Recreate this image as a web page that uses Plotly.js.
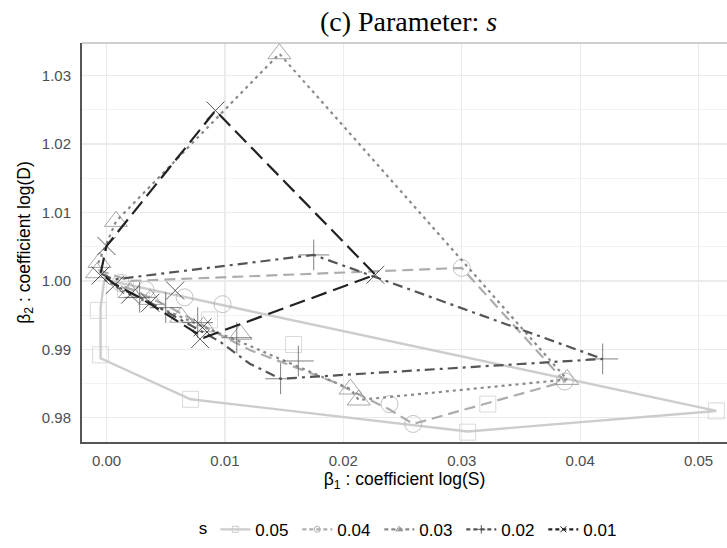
<!DOCTYPE html>
<html>
<head>
<meta charset="utf-8">
<script src="https://cdn.plot.ly/plotly-3.0.1.min.js"></script>
<style>
  html, body { margin: 0; padding: 0; background: #ffffff; }
  #chart { width: 727px; height: 548px; }
</style>
</head>
<body>
<div id="chart"></div>
<script>
// Levels of the parameter s, shown left to right in the legend
const sLevels = ['0.05', '0.04', '0.03', '0.02', '0.01'];

// s = 0.05 : path of (beta1, beta2) estimates and its point markers
const path05x = [-0.0002, -0.0005, -0.0005, 0.0071, 0.0305, 0.0515, 0.0121, 0.0003];
const path05y = [1.0000, 0.9961, 0.9887, 0.9827, 0.9780, 0.9810, 0.9956, 1.0000];
const pts05x = [-0.0007, -0.0005, 0.0071, 0.0305, 0.0515, 0.0158, 0.0322, 0.0016, 0.0043, 0.0087];
const pts05y = [0.9957, 0.9892, 0.9827, 0.9779, 0.9810, 0.9907, 0.9820, 0.9987, 0.9972, 0.9943];

// s = 0.04
const path04x = [-0.0007, 0.0020, 0.0300, 0.0387, 0.0259, 0.0239, 0.0191, 0.0121, 0.0092, 0.0054, 0.0024, 0.0003];
const path04y = [1.0016, 1.0000, 1.0019, 0.9853, 0.9791, 0.9812, 0.9853, 0.9899, 0.9925, 0.9961, 0.9986, 0.9998];
const pts04x = [0.0300, 0.0387, 0.0259, 0.0239, 0.0098, 0.0033, 0.0066, 0.0012];
const pts04y = [1.0019, 0.9853, 0.9791, 0.9820, 0.9966, 0.9987, 0.9976, 0.9997];

// s = 0.03
const path03x = [-0.0007, 0.0008, 0.0146, 0.0389, 0.0213, 0.0206, 0.0113, 0.0079, 0.0045, 0.0016, -0.0005];
const path03y = [1.0026, 1.0087, 1.0332, 0.9856, 0.9826, 0.9842, 0.9911, 0.9935, 0.9961, 0.9983, 1.0005];
const pts03x = [0.0146, 0.0008, -0.0006, -0.0008, 0.0389, 0.0213, 0.0206, 0.0063, 0.0082, 0.0113, 0.0020, 0.0037];
const pts03y = [1.0332, 1.0087, 1.0027, 1.0012, 0.9856, 0.9826, 0.9842, 0.9947, 0.9933, 0.9922, 0.9983, 0.9973];

// s = 0.02
const path02x = [-0.0004, 0.0006, 0.0175, 0.0419, 0.0147, 0.0121, 0.0096, 0.0062, 0.0033, 0.0007];
const path02y = [1.0010, 1.0002, 1.0038, 0.9886, 0.9857, 0.9879, 0.9911, 0.9944, 0.9972, 0.9993];
const pts02x = [0.0175, 0.0419, 0.0162, 0.0147, 0.0110, 0.0028, 0.0050, 0.0077];
const pts02y = [1.0038, 0.9886, 0.9883, 0.9857, 0.9917, 0.9976, 0.9961, 0.9939];

// s = 0.01
const path01x = [-0.0005, 0.0000, 0.0092, 0.0227, 0.0082, 0.0054, 0.0028, 0.0007, -0.0005];
const path01y = [1.0011, 1.0051, 1.0249, 1.0009, 0.9917, 0.9947, 0.9976, 0.9995, 1.0011];
const pts01x = [0.0000, 0.0092, 0.0227, 0.0081, 0.0079, 0.0058, -0.0005, 0.0007, 0.0020, 0.0037];
const pts01y = [1.0051, 1.0249, 1.0009, 0.9932, 0.9915, 0.9986, 1.0008, 0.9994, 0.9980, 0.9968];

// Axis tick values and labels
const xTicks = [0.00, 0.01, 0.02, 0.03, 0.04, 0.05];
const xTickText = ['0.00', '0.01', '0.02', '0.03', '0.04', '0.05'];
const yTicks = [0.98, 0.99, 1.00, 1.01, 1.02, 1.03];
const yTickText = ['0.98', '0.99', '1.00', '1.01', '1.02', '1.03'];

// Per-level styling
const styles = {
  '0.05': { color: '#CCCCCC', dash: 'solid', width: 2.4, symbol: 'square-open', size: 16 },
  '0.04': { color: '#ADADAD', dash: '11px,6px', width: 2.2, symbol: 'circle-open', size: 17 },
  '0.03': { color: '#8A8A8A', dash: '3px,4px', width: 2.2, symbol: 'triangle-up-open', size: 20 },
  '0.02': { color: '#555555', dash: '10px,5px,3px,5px', width: 2.2, symbol: 'cross-thin-open', size: 22 },
  '0.01': { color: '#222222', dash: '16px,7px', width: 2.2, symbol: 'x-thin-open', size: 18 }
};

const series = {
  '0.05': { px: path05x, py: path05y, mx: pts05x, my: pts05y },
  '0.04': { px: path04x, py: path04y, mx: pts04x, my: pts04y },
  '0.03': { px: path03x, py: path03y, mx: pts03x, my: pts03y },
  '0.02': { px: path02x, py: path02y, mx: pts02x, my: pts02y },
  '0.01': { px: path01x, py: path01y, mx: pts01x, my: pts01y }
};

const traces = [];
sLevels.forEach(function (lev) {
  const st = styles[lev];
  const d = series[lev];
  traces.push({
    type: 'scatter', mode: 'lines', x: d.px, y: d.py,
    line: { color: st.color, dash: st.dash, width: st.width },
    legendgroup: lev, showlegend: false, hoverinfo: 'skip'
  });
  traces.push({
    type: 'scatter', mode: 'markers', x: d.mx, y: d.my,
    marker: { symbol: st.symbol, size: st.size, color: st.color, opacity: 0.75,
              line: { color: st.color, width: 1 } },
    legendgroup: lev, showlegend: false, hoverinfo: 'skip'
  });
  // legend entry: line key with a small point
  traces.push({
    type: 'scatter', mode: 'lines+markers', x: [null], y: [null], name: lev,
    line: { color: st.color, dash: st.dash === 'solid' ? 'solid' : '4px,3px', width: 2.4 },
    marker: { symbol: st.symbol, size: 6, color: st.color, line: { color: st.color, width: 1 } },
    legendgroup: lev, showlegend: true
  });
});

const tickFont = { family: 'Liberation Sans, Arial, sans-serif', size: 15, color: '#4D4D4D' };
const titleFont = { family: 'Liberation Sans, Arial, sans-serif', size: 17.5, color: '#000000' };

const layout = {
  width: 727, height: 548,
  paper_bgcolor: '#ffffff', plot_bgcolor: '#ffffff',
  margin: { l: 82, r: 0, t: 43, b: 101 },
  title: {
    text: '(c) Parameter: <i>s</i>',
    font: { family: 'Liberation Serif, DejaVu Serif, serif', size: 28, color: '#000000' },
    x: 0.562, xanchor: 'center', y: 0.962, yanchor: 'middle', xref: 'container', yref: 'container'
  },
  xaxis: {
    range: [-0.00207, 0.0524],
    tickvals: xTicks, ticktext: xTickText, tickfont: tickFont,
    showgrid: true, gridcolor: '#EBEBEB', gridwidth: 1.2,
    zeroline: false, showline: true, linecolor: '#555555', linewidth: 2,
    ticks: '', ticklabelstandoff: 4,
    title: { text: 'β<sub>1</sub> : coefficient log(S)', font: titleFont, standoff: 5 }
  },
  yaxis: {
    range: [0.97646, 1.03477],
    tickvals: yTicks, ticktext: yTickText, tickfont: tickFont,
    showgrid: true, gridcolor: '#EBEBEB', gridwidth: 1.2,
    minor: { tickvals: [0.985, 0.995, 1.005, 1.015, 1.025], showgrid: true, gridcolor: '#F3F3F3', gridwidth: 1, ticks: '' },
    zeroline: false, showline: true, linecolor: '#555555', linewidth: 2,
    ticks: '', ticklabelstandoff: 6,
    title: { text: 'β<sub>2</sub> : coefficient log(D)', font: titleFont, standoff: 7 }
  },
  shapes: [
    { type: 'line', xref: 'paper', yref: 'paper', x0: 0, x1: 1, y0: 1, y1: 1,
      line: { color: '#A0A0A0', width: 1.2 } }
  ],
  legend: {
    orientation: 'h', x: 0.178, xanchor: 'left', y: -0.22, yanchor: 'middle',
    title: { text: 's', side: 'left', font: { family: 'Liberation Sans, Arial, sans-serif', size: 17, color: '#000' } },
    font: { family: 'Liberation Sans, Arial, sans-serif', size: 17, color: '#000' },
    itemwidth: 30, entrywidth: 37, entrywidthmode: 'pixels', tracegroupgap: 0, bgcolor: 'rgba(0,0,0,0)'
  },
  showlegend: true
};

Plotly.newPlot('chart', traces, layout, { staticPlot: true, displayModeBar: false });
</script>
</body>
</html>
